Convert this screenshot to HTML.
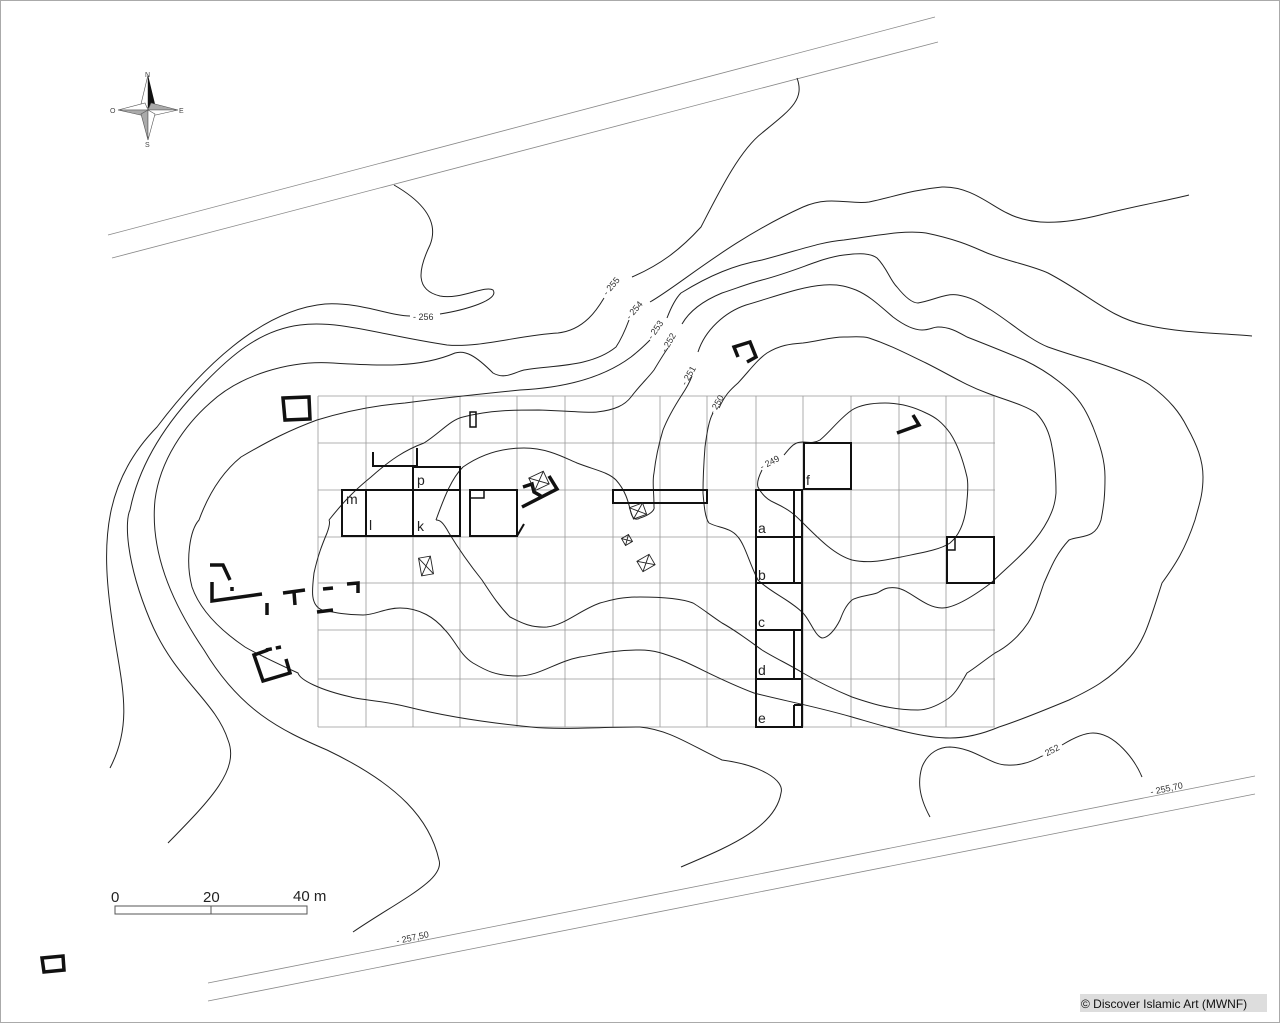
<!DOCTYPE html>
<html><head><meta charset="utf-8"><style>
html,body{margin:0;padding:0;background:#fff;}
svg{display:block;}
text{font-family:"Liberation Sans",sans-serif;}
</style></head><body>
<svg width="1280" height="1023" viewBox="0 0 1280 1023" xmlns="http://www.w3.org/2000/svg">
<rect x="0.5" y="0.5" width="1279" height="1022" fill="#fff" stroke="#aaa"/>
<g stroke="#888" stroke-width="0.8" fill="none">
<line x1="108" y1="235" x2="935" y2="17"/>
<line x1="112" y1="258" x2="938" y2="42"/>
<line x1="208" y1="983" x2="1255" y2="776"/>
<line x1="208" y1="1001" x2="1255" y2="794"/>
</g>
<g stroke="#999" stroke-width="0.8" fill="none">
<path d="M318,396H995M318,443H995M318,490H995M318,537H995M318,583H995M318,630H995M318,679H995M318,727H995"/>
<path d="M318,396V727M366,396V727M413,396V727M460,396V727M517,396V727M565,396V727M613,396V727M660,396V727M707,396V727M756,396V727M803,396V727M851,396V727M899,396V727M946,396V727M994,396V727"/>
</g>
<g stroke="#222" stroke-width="1" fill="none">
<path d="M110,768 C135,720 120,680 112,620 C100,540 105,480 157,427 C200,370 260,310 325,304 C360,302 390,316 410,316 M440,314 C465,310 500,300 493,290 C485,285 460,300 440,296 C415,290 418,270 430,245 C440,220 420,200 394,185"/>
<path d="M168,843 C210,800 240,770 228,740 C215,700 175,680 150,620 C125,560 125,520 130,510 C140,460 170,420 195,393 C230,355 260,330 300,325 C340,320 380,335 447,345 C480,348 520,335 558,333 C585,330 598,308 604,298 M632,277 C660,265 680,250 701,227 C720,190 740,150 762,133 C790,110 805,100 797,78"/>
<path d="M353,932 C400,900 445,880 439,860 C430,820 400,785 327,750 C280,730 240,710 204,650 C170,600 150,550 155,500 C160,460 185,425 210,403 C240,375 290,360 333,363 C380,366 420,368 455,353 C465,350 475,355 493,373 C505,380 515,372 524,370 C550,365 590,368 616,347 C622,338 626,328 629,320 M650,302 C680,285 730,240 803,207 C830,195 850,205 869,202 C890,198 910,190 942,187 C970,186 990,205 1007,213 C1030,225 1060,225 1100,215 C1140,205 1170,200 1189,195"/>
<path d="M681,867 C720,850 775,830 781,793 C785,780 760,765 722,760 C690,745 670,730 640,727 C600,727 560,730 531,727 C480,722 440,715 408,707 C380,700 360,700 351,697 C320,690 300,680 298,673 C270,660 250,650 245,647 C220,630 200,610 192,587 C185,560 190,530 199,520 C210,490 225,470 241,457 C270,440 290,430 317,420 C350,410 380,405 405,403 C450,397 500,392 520,390 C560,388 600,380 631,357 C640,350 645,345 650,340 M667,318 C672,305 676,298 681,293 C710,275 735,265 762,260 C800,250 820,242 844,240 C880,235 905,230 926,233 C960,240 975,248 987,253 C1010,262 1030,265 1048,273 C1090,295 1110,318 1146,325 C1180,333 1220,333 1252,336"/>
<path d="M329,520 C345,500 355,490 371,477 C390,460 405,450 424,443 C440,433 450,420 463,417 C490,410 515,410 539,410 C570,411 590,413 597,412 C615,410 625,405 631,397 C640,385 648,378 654,370 C660,360 665,352 668,348 M682,324 C690,310 705,300 722,293 C740,287 750,283 762,280 C800,270 820,258 844,255 C860,253 870,253 877,258 C887,268 890,280 897,287 C905,297 912,303 918,303 C935,300 945,293 958,295 C975,298 982,305 991,310 C1010,322 1030,340 1048,347 C1065,353 1075,356 1089,360 C1120,370 1140,378 1150,385 C1170,400 1180,413 1187,427 C1197,445 1203,460 1203,477 C1203,495 1199,505 1195,520 C1185,550 1175,565 1162,583 C1150,620 1145,640 1130,657 C1110,680 1090,690 1069,700 C1040,712 1015,722 999,727 C980,735 965,738 950,738 C920,738 880,725 852,717 C810,705 780,700 754,693 C720,680 700,668 681,660 C665,654 655,650 640,650 C610,650 595,655 580,657 C555,662 540,676 518,676 C495,676 485,670 473,663 C460,655 455,640 445,630 C435,618 420,608 400,608 C385,608 375,615 363,615 C345,615 332,612 322,610 C310,605 312,590 314,573 C318,555 322,545 327,533 C330,525 330,522 329,520"/>
<path d="M436,520 C445,495 452,478 463,467 C480,455 500,448 524,448 C548,448 565,458 577,463 C595,470 608,472 616,480 C625,490 628,500 631,513 C633,520 637,520 640,518 C650,515 655,510 654,507 C654,490 652,482 654,473 C656,455 660,440 663,430 C670,412 680,398 685,390 C690,382 691,378 692,376 M698,352 C705,330 725,312 746,305 C780,295 800,287 824,285 C840,284 848,287 856,290 C870,296 880,306 893,317 C905,326 915,330 922,330 C930,330 933,327 938,327 C950,327 958,332 967,337 C990,346 1005,352 1024,360 C1045,370 1058,380 1069,390 C1082,402 1088,415 1093,427 C1100,445 1105,460 1105,477 C1105,495 1104,505 1101,520 C1095,540 1080,535 1069,540 C1055,555 1050,570 1044,583 C1038,600 1035,612 1028,623 C1018,638 1005,648 995,653 C982,662 975,668 967,673 C960,685 955,695 946,700 C935,707 925,710 918,710 C890,710 870,703 852,697 C835,690 815,680 803,673 C790,665 775,658 762,650 C748,640 735,630 722,623 C710,615 700,607 693,603 C680,598 660,597 640,597 C620,597 612,600 600,603 C580,610 565,625 547,627 C530,628 520,622 510,617 C498,605 490,592 482,580 C470,565 458,548 449,533 C443,522 440,520 436,520"/>
<path d="M719,408 C725,395 730,390 738,383 C750,370 757,360 767,353 C780,345 790,344 803,343 C820,341 830,337 844,337 C855,337 862,336 869,338 C890,345 905,353 926,363 C950,375 965,385 987,393 C1005,400 1025,405 1036,413 C1045,422 1050,435 1052,447 C1055,462 1056,478 1056,493 C1055,505 1052,512 1048,520 C1035,545 1015,560 991,583 C975,595 955,608 942,608 C925,608 910,590 897,588 C885,586 880,592 877,593 C868,596 858,596 852,600 C845,606 842,615 840,620 C835,630 828,638 822,638 C815,636 810,620 803,613 C790,600 770,592 758,580 C750,565 745,545 738,537 C730,527 718,528 709,523 C705,518 704,505 703,493 C703,478 704,460 705,447 C707,432 709,420 713,413"/>
<path d="M762,470 C758,478 757,484 758,487 C762,495 768,500 775,503 C790,510 795,515 803,523 C820,540 835,555 852,560 C870,564 885,560 901,557 C920,553 940,550 950,543 C962,533 966,515 967,500 C968,490 968,482 967,477 C963,460 958,445 950,433 C942,422 935,417 926,413 C912,406 898,403 885,403 C872,403 860,405 852,410 C840,418 830,432 820,440 C813,444 808,442 803,442 C797,442 794,444 791,447 C787,451 786,453 784,455"/>
<path d="M930,817 C918,795 918,780 922,767 C928,752 940,747 950,747 C975,748 990,765 1007,765 C1022,766 1035,760 1042,756 M1062,745 C1075,737 1085,733 1093,733 C1115,733 1135,760 1142,777"/>
</g>
<g font-size="9" fill="#333">
<text x="413" y="320">- 256</text>
<text transform="translate(607,296) rotate(-50)">- 255</text>
<text transform="translate(630,320) rotate(-50)">- 254</text>
<text transform="translate(652,340) rotate(-55)">- 253</text>
<text transform="translate(666,353) rotate(-60)">- 252</text>
<text transform="translate(686,386) rotate(-60)">- 251</text>
<text transform="translate(714,415) rotate(-60)">- 250</text>
<text transform="translate(762,470) rotate(-28)">- 249</text>
<text transform="translate(1042,759) rotate(-28)">- 252</text>
<text transform="translate(1151,795) rotate(-12)">- 255,70</text>
<text transform="translate(397,944) rotate(-12)">- 257,50</text>
</g>
<g stroke="#111" stroke-width="2" fill="none">
<rect x="342" y="490" width="118" height="46"/>
<line x1="366" y1="490" x2="366" y2="536"/>
<line x1="413" y1="467" x2="413" y2="536"/>
<rect x="413" y="467" width="47" height="23"/>
<polyline points="373,452 373,466 417,466 417,448"/>
<rect x="470" y="490" width="47" height="46"/>
<rect x="470" y="490" width="14" height="8" stroke-width="1.5"/>
<line x1="517" y1="536" x2="524" y2="524"/>
<rect x="613" y="490" width="94" height="13"/>
<rect x="756" y="490" width="46" height="237"/>
<path d="M756,537H802M756,583H802M756,630H802M756,679H802"/>
<path d="M794,490V583M794,630V679M794,705V727M794,705H802"/>
<rect x="804" y="443" width="47" height="46"/>
<rect x="947" y="537" width="47" height="46"/>
<rect x="947" y="537" width="8" height="13" stroke-width="1.5"/>
<rect x="470" y="412" width="6" height="15" stroke-width="1.5"/>
</g>
<g stroke="#111" stroke-width="3.5" fill="none">
<polygon points="283,398 309,397 310,419 285,420"/>
<polygon points="42,958 63,956 64,970 44,972"/>
<polyline points="738,357 734,347 750,342 756,357 747,362"/>
<polyline points="897,433 919,425 913,415"/>
<polyline points="210,565 223,565 230,580"/>
<polyline points="212,582 212,601 262,594"/>
<line x1="232" y1="587" x2="232" y2="591"/>
<line x1="267" y1="603" x2="267" y2="615"/>
<line x1="283" y1="593" x2="305" y2="590"/>
<line x1="294" y1="592" x2="295" y2="605"/>
<line x1="323" y1="589" x2="333" y2="588"/>
<polyline points="347,584 358,583 358,593"/>
<line x1="317" y1="612" x2="333" y2="610"/>
<polyline points="268,650 254,655 263,681 290,673 286,659"/>
<polyline points="549,476 557,489 522,507"/>
<polyline points="523,487 532,484 534,492 541,496"/>
</g>
<line x1="266" y1="650" x2="281" y2="647" stroke="#111" stroke-width="3.5" stroke-dasharray="6,4"/>
<g stroke="#222" stroke-width="0.9" fill="none">
<g transform="translate(539,481) rotate(-25)"><rect x="-8" y="-7" width="16" height="14"/><path d="M-8,-7L8,7M8,-7L-8,7"/></g>
<g transform="translate(426,566) rotate(-10)"><rect x="-6" y="-9" width="12" height="18"/><path d="M-6,-9L6,9M6,-9L-6,9"/></g>
<g transform="translate(638,511) rotate(-20)"><rect x="-7" y="-6" width="14" height="12"/><path d="M-7,-6L7,6M7,-6L-7,6"/></g>
<g transform="translate(627,540) rotate(-30)"><rect x="-4" y="-4" width="8" height="8"/><path d="M-4,-4L4,4M4,-4L-4,4"/></g>
<g transform="translate(646,563) rotate(-30)"><rect x="-7" y="-6" width="14" height="12"/><path d="M-7,-6L7,6M7,-6L-7,6"/></g>
</g>
<g font-size="14" fill="#222">
<text x="346" y="504">m</text>
<text x="369" y="530">l</text>
<text x="417" y="531">k</text>
<text x="417" y="485">p</text>
<text x="758" y="533">a</text>
<text x="758" y="580">b</text>
<text x="758" y="627">c</text>
<text x="758" y="675">d</text>
<text x="758" y="723">e</text>
<text x="806" y="485">f</text>
</g>
<g>
<polygon points="148,75 141,104 148,108" fill="#fff" stroke="#555" stroke-width="0.6"/>
<polygon points="148,75 155,104 148,108" fill="#111"/>
<polygon points="118,110 145,103 148,110" fill="#fff" stroke="#555" stroke-width="0.6"/>
<polygon points="118,110 145,116 148,110" fill="#aaa" stroke="#555" stroke-width="0.6"/>
<polygon points="178,110 151,103 148,110" fill="#aaa" stroke="#555" stroke-width="0.6"/>
<polygon points="178,110 151,116 148,110" fill="#fff" stroke="#555" stroke-width="0.6"/>
<polygon points="148,140 141,114 148,110" fill="#aaa" stroke="#555" stroke-width="0.6"/>
<polygon points="148,140 155,114 148,110" fill="#fff" stroke="#555" stroke-width="0.6"/>
<g font-size="7" fill="#444"><text x="145" y="77">N</text><text x="145" y="147">S</text><text x="110" y="113">O</text><text x="179" y="113">E</text></g>
</g>
<rect x="115" y="906" width="192" height="8" fill="#fff" stroke="#555" stroke-width="1"/>
<line x1="211" y1="906" x2="211" y2="914" stroke="#555"/>
<g font-size="15" fill="#222"><text x="111" y="902">0</text><text x="203" y="902">20</text><text x="293" y="901">40 m</text></g>
<rect x="1080" y="994" width="187" height="18" fill="#ddd"/>
<text x="1081" y="1008" font-size="12" fill="#111">© Discover Islamic Art (MWNF)</text>
</svg>
</body></html>
